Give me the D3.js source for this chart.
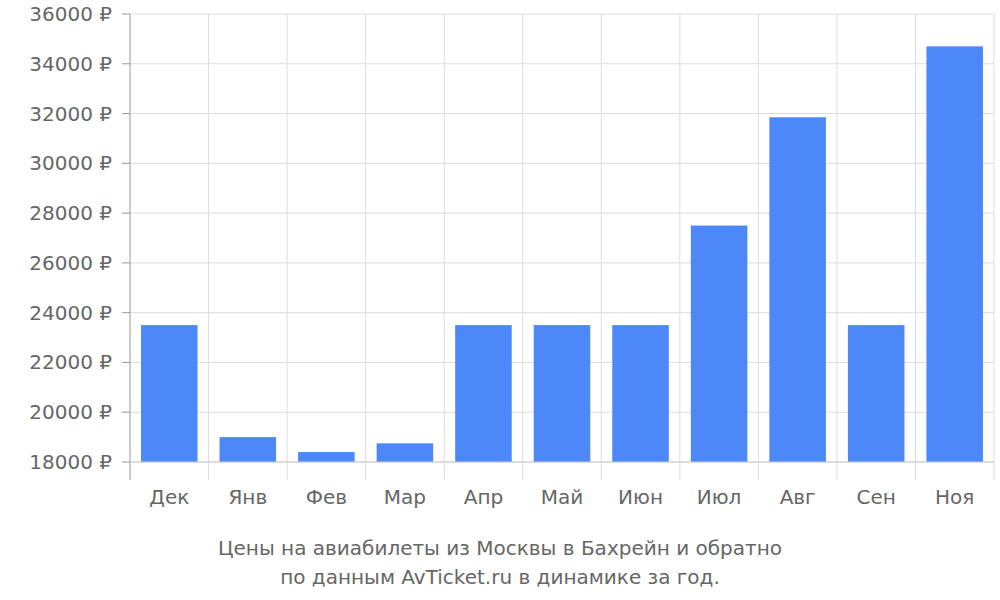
<!DOCTYPE html>
<html><head><meta charset="utf-8">
<script src="https://cdn.jsdelivr.net/npm/d3@7"></script>
<style>body{margin:0;background:#fff}svg{font-family:"DejaVu Sans",sans-serif}</style>
</head><body><svg id="c" width="1000" height="600"></svg>
<script>
const categories=["Дек","Янв","Фев","Мар","Апр","Май","Июн","Июл","Авг","Сен","Ноя"];
const prices=[23500,19000,18400,18750,23500,23500,23500,27500,31850,23500,34700];
const yTicks=[18000,20000,22000,24000,26000,28000,30000,32000,34000,36000];
const titleLines=["Цены на авиабилеты из Москвы в Бахрейн и обратно","по данным AvTicket.ru в динамике за год."];

const svg=d3.select("#c");
const L=130,R=994,T=14,B=462,TB=480;
const x=d3.scaleBand().domain(categories).range([L,R]).paddingInner(0.28).paddingOuter(0.14);
const y=d3.scaleLinear().domain([18000,36000]).range([B,T]);
const step=(R-L)/categories.length;
const g=svg.append("g");
// horizontal grid
g.selectAll(".h").data(yTicks).join("line").attr("x1",L).attr("x2",R)
 .attr("y1",d=>y(d)).attr("y2",d=>y(d)).attr("stroke","#ddd");
// vertical grid
g.selectAll(".v").data(d3.range(categories.length+1)).join("line")
 .attr("x1",i=>L+i*step).attr("x2",i=>L+i*step).attr("y1",T).attr("y2",TB)
 .attr("stroke",i=>i===0?"#999":"#ddd");
// bars
g.selectAll(".b").data(prices).join("rect")
 .attr("x",(d,i)=>x(categories[i])).attr("width",x.bandwidth())
 .attr("y",d=>y(d)).attr("height",d=>B-y(d)).attr("fill","#4d88f9");
// bottom line
g.append("line").attr("x1",L).attr("x2",R).attr("y1",B).attr("y2",B).attr("stroke","#ccc");
// y labels
g.selectAll(".yl").data(yTicks).join("text").attr("x",L-18).attr("y",d=>y(d)+7)
 .attr("text-anchor","end").attr("font-size",20).attr("fill","#666").text(d=>d+" ₽");
g.selectAll(".yt").data(yTicks).join("line").attr("x1",L-8).attr("x2",L).attr("y1",d=>y(d)).attr("y2",d=>y(d)).attr("stroke","#999");
// x labels
g.selectAll(".xl").data(categories).join("text").attr("x",d=>x(d)+x.bandwidth()/2).attr("y",504)
 .attr("text-anchor","middle").attr("font-size",20).attr("fill","#666").text(d=>d);
// title
svg.selectAll(".t").data(titleLines).join("text").attr("x",500).attr("y",(d,i)=>555+i*29)
 .attr("text-anchor","middle").attr("font-size",20).attr("fill","#666").text(d=>d);
</script></body></html>
